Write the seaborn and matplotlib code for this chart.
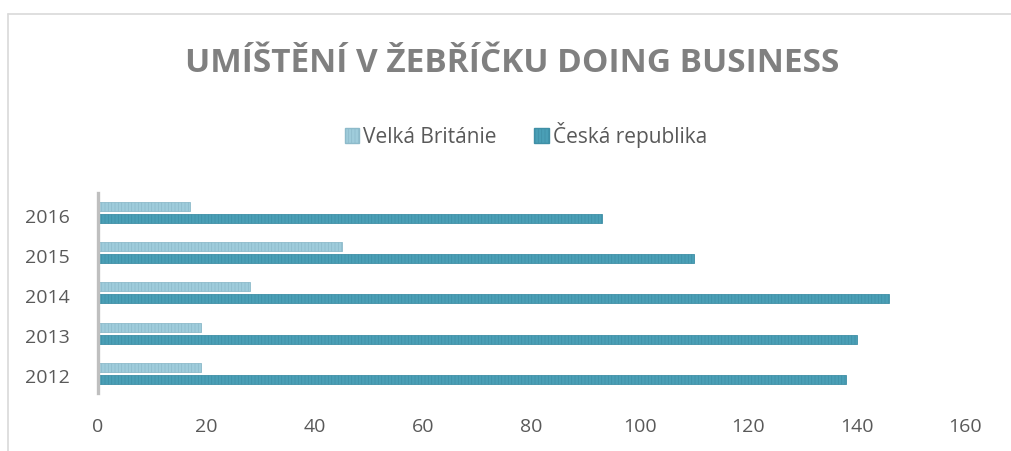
import matplotlib
matplotlib.use("Agg")
import matplotlib.pyplot as plt
import matplotlib.transforms as mtransforms
import seaborn as sns
import pandas as pd
from matplotlib.patches import Patch
from matplotlib.lines import Line2D

years = ["2016", "2015", "2014", "2013", "2012"]
series_names = ["Velká Británie", "Česká republika"]
uk_values = [17, 45, 28, 19, 19]
cz_values = [93, 110, 146, 140, 138]
x_ticks = [0, 20, 40, 60, 80, 100, 120, 140, 160]
title = "UMÍŠTĚNÍ V ŽEBŘÍČKU DOING BUSINESS"

colors = {"Velká Británie": "#9FCCDB", "Česká republika": "#4A9FB6"}
edge_colors = {"Velká Británie": "#8DBACA", "Česká republika": "#3F8FA6"}

df = pd.DataFrame({
    "year": years * 2,
    "series": [series_names[0]] * len(years) + [series_names[1]] * len(years),
    "value": uk_values + cz_values,
})

sns.set_theme(style="white")
plt.rcParams["font.family"] = ["Open Sans", "DejaVu Sans"]
plt.rcParams["hatch.linewidth"] = 0.5

fig = plt.figure(figsize=(10.11, 4.51), dpi=100)
fig.patch.set_facecolor("white")
ax = fig.add_axes([98 / 1011, 1 - 393 / 451, (965 - 98) / 1011, 200 / 451])

sns.barplot(data=df, x="value", y="year", hue="series", order=years,
            hue_order=series_names, palette=colors, orient="h",
            width=0.6, gap=0.25, ax=ax, legend=False, saturation=1)

for container, name in zip(ax.containers, series_names):
    for bar in container:
        bar.set_hatch("|||||")
        bar.set_edgecolor(edge_colors[name])
        bar.set_linewidth(0.6)

ax.set_xlim(0, 160)
ax.set_xticks(x_ticks)
ax.set_xticklabels([str(t) for t in x_ticks])
ax.set_xlabel("")
ax.set_ylabel("")
ax.tick_params(axis="x", length=0, pad=18, labelsize=14, labelcolor="#595959")
ax.tick_params(axis="y", length=0, pad=20, labelsize=14, labelcolor="#595959")
for s in ["top", "right", "bottom"]:
    ax.spines[s].set_visible(False)
ax.spines["left"].set_color("#BFBFBF")
ax.spines["left"].set_linewidth(2.4)
ax.grid(False)

shift = mtransforms.ScaledTranslation(0, -3 / 100, fig.dpi_scale_trans)
for lbl in ax.get_yticklabels():
    lbl.set_transform(lbl.get_transform() + shift)

fig.text(512 / 1011, 1 - 63 / 451, title, ha="center", va="center",
         fontsize=24, fontweight="bold", color="#808080")

handles = [Patch(facecolor=colors[n], edgecolor=edge_colors[n], hatch="|||||", label=n)
           for n in series_names]
fig.legend(handles=handles, loc="center", bbox_to_anchor=(526 / 1011, 1 - 135 / 451),
           ncol=2, frameon=False, fontsize=15, handlelength=0.7, handleheight=0.7,
           handletextpad=0.2, columnspacing=1.8, labelcolor="#595959")

# chart frame
fig.add_artist(Line2D([8 / 1011, 1.0], [1 - 14 / 451, 1 - 14 / 451],
                      transform=fig.transFigure, color="#D9D9D9", linewidth=1.2))
fig.add_artist(Line2D([8 / 1011, 8 / 1011], [0.0, 1 - 14 / 451],
                      transform=fig.transFigure, color="#D9D9D9", linewidth=1.2))

fig.savefig("out.png", dpi=100, facecolor="white")
